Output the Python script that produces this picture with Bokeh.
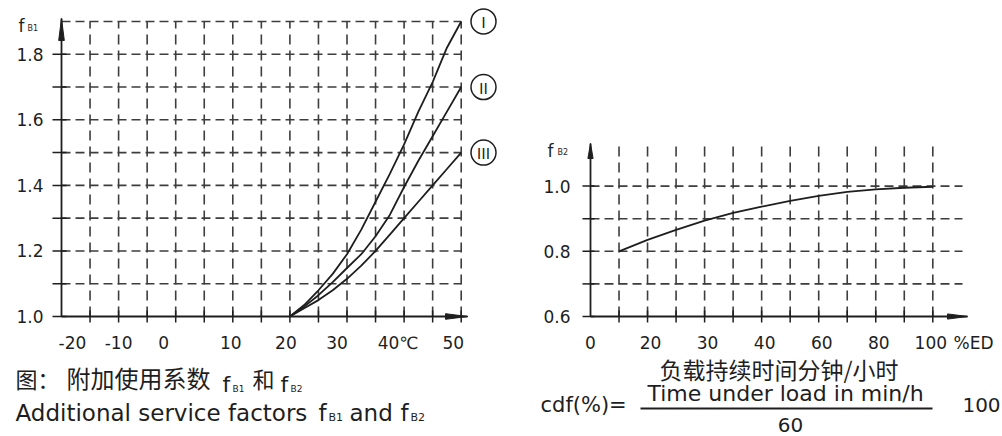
from bokeh.plotting import figure
from bokeh.layouts import row
from bokeh.embed import file_html
from bokeh.resources import INLINE
from bokeh.core.properties import value

# ---------------- data ----------------
# Left chart: additional service factor f_B1 vs ambient temperature
temp_c = [20, 22.5, 25, 27.5, 30, 32.5, 35, 37.5, 40, 42.5, 45, 47.5, 50]
fb1_curve_I = [1.0, 1.035, 1.08, 1.13, 1.19, 1.265, 1.35, 1.435, 1.525, 1.625, 1.715, 1.82, 1.9]
fb1_curve_II = [1.0, 1.03, 1.065, 1.105, 1.148, 1.19, 1.245, 1.31, 1.395, 1.475, 1.55, 1.625, 1.7]
fb1_curve_III = [1.0, 1.025, 1.05, 1.08, 1.115, 1.155, 1.2, 1.25, 1.3, 1.35, 1.4, 1.45, 1.5]
curve_tags = ["Ⅰ", "Ⅱ", "Ⅲ"]

temp_grid = [-20, -15, -10, -5, 0, 5, 10, 15, 20, 25, 30, 35, 40, 45, 50]
temp_tick_values = [-20, -10, 0, 10, 20, 30, 40, 50]
temp_tick_labels = ["-20", "-10", "0", "10", "20", "30", "40℃", "50"]
fb1_grid = [1.0, 1.1, 1.2, 1.3, 1.4, 1.5, 1.6, 1.7, 1.8, 1.9]
fb1_tick_values = [1.0, 1.2, 1.4, 1.6, 1.8]
fb1_tick_labels = ["1.0", "1.2", "1.4", "1.6", "1.8"]

# Right chart: f_B2 vs cyclic duration factor (axis drawn in equal slots)
ed_slot = [1, 2, 3, 4, 5, 6, 7, 8, 9, 10, 11, 12]
fb2_values = [0.80, 0.835, 0.866, 0.894, 0.918, 0.937, 0.955, 0.970, 0.982, 0.990, 0.995, 0.998]
ed_grid = [0, 1, 2, 3, 4, 5, 6, 7, 8, 9, 10, 11, 12]
ed_tick_slots = [0, 2, 4, 6, 8, 10, 12]
ed_tick_labels = ["0", "20", "30", "40", "60", "80", "100"]
fb2_grid = [0.6, 0.7, 0.8, 0.9, 1.0]
fb2_tick_values = [0.6, 0.8, 1.0]
fb2_tick_labels = ["0.6", "0.8", "1.0"]

# ---------------- styles ----------------
INK = "#1e1e1e"
GRID = "#3d3d3d"
FONT = "DejaVu Sans"
CJK = "Noto Sans CJK SC"
PAGE_TOP = 0
H = 436


class PageMap:
    """Maps picture pixel positions to a figure's data coordinates."""

    def __init__(self, left, width, xref_px, xref_val, pxx, yref_px, yref_val, pxy):
        self.left, self.pxx, self.pxy = left, pxx, pxy
        self.x0 = xref_val - (xref_px - left) / pxx
        self.x1 = self.x0 + width / pxx
        self.y1 = yref_val + (yref_px - PAGE_TOP) / pxy
        self.y0 = self.y1 - H / pxy

    def x(self, px):
        return self.x0 + (px - self.left) / self.pxx

    def y(self, py):
        return self.y1 - (py - PAGE_TOP) / self.pxy


def make_fig(w, m):
    p = figure(width=w, height=H, x_range=(m.x0, m.x1), y_range=(m.y0, m.y1),
               output_backend="svg", toolbar_location=None,
               min_border=0)
    p.outline_line_color = None
    p.xaxis.visible = False
    p.yaxis.visible = False
    p.xgrid.visible = False
    p.ygrid.visible = False
    p.background_fill_color = "white"
    p.border_fill_color = "white"
    return p


def page_text(p, m, items, size, font=FONT, align="left", baseline="alphabetic"):
    p.text(x=[m.x(it[1]) for it in items], y=[m.y(it[2]) for it in items],
           text=[it[0] for it in items], text_font=value(font),
           text_font_size=f"{size}px", text_color=INK,
           text_align=align, text_baseline=baseline)


def draw_axes_grid(p, m, xg, yg, h_end, v_top, x_tip, y_tip,
                   ytick_out, ytick_in, xtick, skip_top,
                   head_x, head_y, head_half):
    pxx, pxy = m.pxx, m.pxy
    xa, ya = xg[0], yg[0]
    vx = xg[1:]
    p.segment(x0=vx, y0=[ya] * len(vx), x1=vx, y1=[v_top] * len(vx),
              line_color=GRID, line_width=1.6, line_dash="10 6")
    hy = yg[1:]
    p.segment(x0=[xa] * len(hy), y0=hy, x1=[h_end] * len(hy), y1=hy,
              line_color=GRID, line_width=1.6, line_dash="9 5")
    ty = yg[:-1] if skip_top else yg
    p.segment(x0=[xa - ytick_out / pxx] * len(ty), y0=ty,
              x1=[xa + ytick_in / pxx] * len(ty), y1=ty,
              line_color=INK, line_width=1.5)
    p.segment(x0=vx, y0=[ya - xtick / pxy] * len(vx),
              x1=vx, y1=[ya + xtick / pxy] * len(vx),
              line_color=INK, line_width=1.5)
    p.segment(x0=[xa, xa], y0=[ya, ya], x1=[x_tip, xa], y1=[ya, y_tip],
              line_color=INK, line_width=1.8)
    p.patches(xs=[[xa, xa - head_half / pxx, xa + head_half / pxx],
                  [x_tip, x_tip - head_x / pxx, x_tip - head_x / pxx]],
              ys=[[y_tip, y_tip - head_y / pxy, y_tip - head_y / pxy],
                  [ya, ya + head_half / pxy, ya - head_half / pxy]],
              fill_color=INK, line_color=INK, line_width=1)


def tick_labels(p, xt, xl, yt, yl, xa, ya, x_dx, x_dy, y_dx, x_nudge):
    p.text(x=xt, y=[ya] * len(xt), text=xl, text_font=value(FONT),
           text_font_size="17px", text_color=INK, text_align="center",
           text_baseline="middle", x_offset=[x_dx + x_nudge.get(v, 0) for v in xt],
           y_offset=x_dy)
    p.text(x=[xa] * len(yt), y=yt, text=yl, text_font=value(FONT),
           text_font_size="17px", text_color=INK, text_align="right",
           text_baseline="middle", x_offset=y_dx)


# ---------------- left chart ----------------
L_W = 500
m1 = PageMap(0, L_W, 61, temp_grid[0], 5.71, 316, fb1_grid[0], 327.8)
p1 = make_fig(L_W, m1)
draw_axes_grid(p1, m1, temp_grid, fb1_grid,
               h_end=temp_grid[-1], v_top=fb1_grid[-1],
               x_tip=m1.x(467), y_tip=m1.y(18),
               ytick_out=9, ytick_in=5, xtick=6, skip_top=True,
               head_x=22, head_y=22, head_half=2.8)
tick_labels(p1, temp_tick_values, temp_tick_labels, fb1_tick_values, fb1_tick_labels,
            temp_grid[0], fb1_grid[0], x_dx=-5, x_dy=26, y_dx=-18,
            x_nudge={-20: 16, -10: 5, 0: -7, 10: 3, 20: 1, 30: -5, 40: -1, 50: -3})

curves = [fb1_curve_I, fb1_curve_II, fb1_curve_III]
for c in curves:
    p1.line(temp_c, c, line_color=INK, line_width=1.8)

tag_x = m1.x(483)
tag_y = [c[-1] for c in curves]
p1.scatter(x=[tag_x] * 3, y=tag_y, size=25, marker="circle",
           fill_color="white", line_color=INK, line_width=1.5)
p1.text(x=[tag_x] * 3, y=tag_y, text=curve_tags,
        text_font=value("Noto Sans CJK JP"), text_font_size="15px",
        text_align="center", text_baseline="middle", text_color=INK)

page_text(p1, m1, [("f", 18, 25)], 17)
page_text(p1, m1, [("B1", 27, 28)], 8)
page_text(p1, m1, [("图：", 15, 377), ("和", 252, 377)], 22, CJK, baseline="middle")
page_text(p1, m1, [("附加使用系数", 66, 377)], 24, CJK, baseline="middle")
page_text(p1, m1, [("f", 222, 384), ("f", 280, 384)], 22)
page_text(p1, m1, [("B1", 232, 388), ("B2", 290, 388)], 9)
page_text(p1, m1, [("Additional service factors", 15, 412)], 23)
page_text(p1, m1, [("f", 318, 412), ("and", 349, 412), ("f", 400, 412)], 23)
page_text(p1, m1, [("B1", 328, 417), ("B2", 410, 417)], 11)

# ---------------- right chart ----------------
R_W = 502
m2 = PageMap(L_W, R_W, 590, ed_grid[0], 28.525, 316, fb2_grid[0], 326.0)
p2 = make_fig(R_W, m2)
v_top2 = m2.y(143)
draw_axes_grid(p2, m2, ed_grid, fb2_grid,
               h_end=m2.x(962), v_top=v_top2,
               x_tip=m2.x(967), y_tip=v_top2,
               ytick_out=8, ytick_in=4, xtick=6, skip_top=False,
               head_x=20, head_y=15, head_half=2.6)
tick_labels(p2, ed_tick_slots, ed_tick_labels, fb2_tick_values, fb2_tick_labels,
            ed_grid[0], fb2_grid[0], x_dx=3, x_dy=26, y_dx=-20,
            x_nudge={0: -3, 12: -5})
p2.line(ed_slot, fb2_values, line_color=INK, line_width=1.8)

page_text(p2, m2, [("f", 547, 150)], 17)
page_text(p2, m2, [("B2", 557, 152)], 8)
page_text(p2, m2, [("%ED", 953, 342)], 17, baseline="middle")
page_text(p2, m2, [("负载持续时间分钟/小时", 659, 368)], 23, CJK, baseline="middle")
page_text(p2, m2, [("cdf(%)=", 540, 404)], 21, baseline="middle")
page_text(p2, m2, [("Time under load in min/h", 647, 393)], 22, baseline="middle")
page_text(p2, m2, [("60", 790, 424), ("100", 981, 404)], 20, align="center", baseline="middle")
p2.segment(x0=[m2.x(640)], y0=[m2.y(408)], x1=[m2.x(932)], y1=[m2.y(408)],
           line_color=INK, line_width=2)

layout = row(p1, p2)
open("out.html", "w").write(file_html(layout, INLINE))
